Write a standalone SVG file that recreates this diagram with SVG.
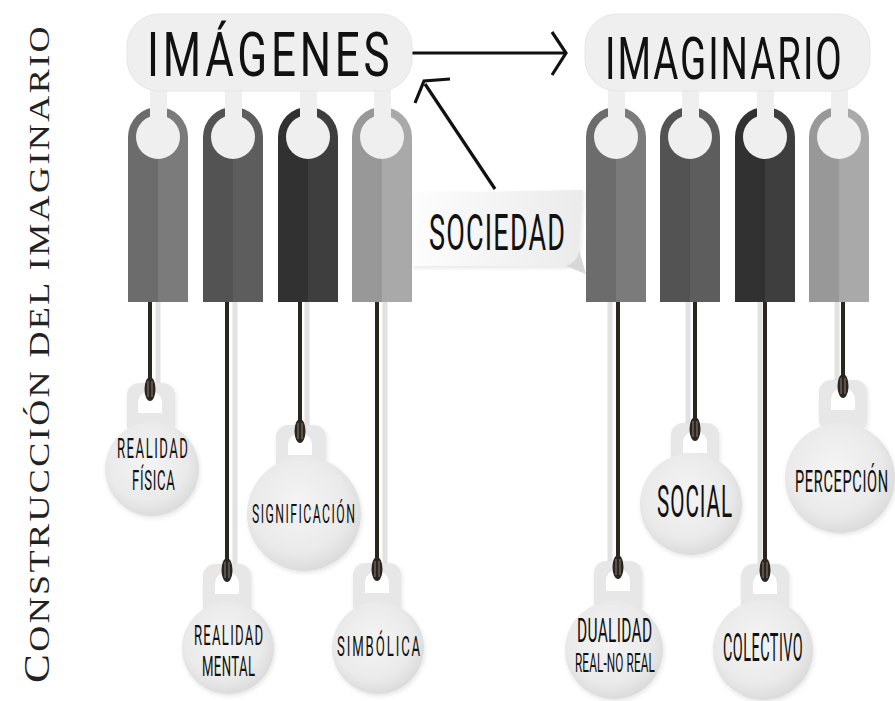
<svg xmlns="http://www.w3.org/2000/svg" width="895" height="701" viewBox="0 0 895 701">
<defs>
<style>
.lbl{font-family:Roboto,"Open Sans","DejaVu Sans Condensed",sans-serif;font-weight:400;fill:#111;}
.pill{fill:#efefef;stroke:#e6e6e6;stroke-width:1;}
.stem{fill:#efefef;}
.hole{fill:#efefef;}
.cord{stroke:#2b2520;stroke-width:4;fill:none;}
.cshadow{stroke:#e2e2e2;stroke-width:5;fill:none;}
.bail{fill:#e7e7e7;}
.thole{fill:#ffffff;}
.knot{fill:#2b2520;}
.kline{stroke:#8a7f77;stroke-width:1;}
.arrow{stroke:#111;stroke-width:3.2;fill:none;stroke-linecap:butt;stroke-linejoin:miter;}
</style>
<radialGradient id="tagGrad" cx="0.45" cy="0.42" r="0.6">
<stop offset="0" stop-color="#f4f4f4"/>
<stop offset="0.7" stop-color="#eaeaea"/>
<stop offset="1" stop-color="#dadada"/>
</radialGradient>
<linearGradient id="paper" x1="0" y1="0" x2="1" y2="0">
<stop offset="0" stop-color="#fdfdfd"/>
<stop offset="1" stop-color="#ebebeb"/>
</linearGradient>
<filter id="sh" x="-20%" y="-20%" width="140%" height="140%">
<feDropShadow dx="1" dy="2" stdDeviation="2" flood-color="#000" flood-opacity="0.10"/>
</filter>
</defs>
<rect width="895" height="701" fill="#ffffff"/>

<g id="title">
<text transform="translate(49,683) rotate(-90)" font-family="'Liberation Serif',serif" fill="#222" letter-spacing="2" textLength="659" lengthAdjust="spacingAndGlyphs"><tspan font-size="36">C</tspan><tspan font-size="30">ONSTRUCCIÓN DEL IMAGINARIO</tspan></text>
</g>

<g id="connectors">
<line class="arrow" x1="412" y1="53" x2="565" y2="53"/>
<polyline class="arrow" points="552,32 566,53 552,75"/>
<line class="arrow" x1="495" y1="189" x2="425" y2="84"/>
<polyline class="arrow" points="415,103 424,81 450,79"/>
<line class="cshadow" x1="158" y1="302" x2="158" y2="395"/>
<line class="cord" x1="150" y1="302" x2="150" y2="389"/>
<line class="cshadow" x1="235" y1="302" x2="235" y2="578"/>
<line class="cord" x1="227" y1="302" x2="227" y2="570"/>
<line class="cshadow" x1="307" y1="302" x2="307" y2="440"/>
<line class="cord" x1="300" y1="302" x2="300" y2="431"/>
<line class="cshadow" x1="385" y1="302" x2="385" y2="578"/>
<line class="cord" x1="377" y1="302" x2="377" y2="569"/>
<line class="cshadow" x1="610" y1="302" x2="610" y2="576"/>
<line class="cord" x1="618" y1="302" x2="618" y2="567"/>
<line class="cshadow" x1="688" y1="302" x2="688" y2="438"/>
<line class="cord" x1="695" y1="302" x2="695" y2="429"/>
<line class="cshadow" x1="760" y1="302" x2="760" y2="578"/>
<line class="cord" x1="765" y1="302" x2="765" y2="570"/>
<line class="cshadow" x1="837" y1="302" x2="837" y2="394"/>
<line class="cord" x1="843" y1="302" x2="843" y2="386"/>
</g>

<g id="node-imagenes">
<rect class="stem" x="150" y="80" width="17" height="60"/>
<rect class="stem" x="225" y="80" width="17" height="60"/>
<rect class="stem" x="300" y="80" width="17" height="60"/>
<rect class="stem" x="374" y="80" width="17" height="60"/>
<rect class="pill" x="127" y="14" width="285" height="77" rx="32"/>
<text class="lbl" transform="translate(147,76) scale(0.72,1)" font-size="61" textLength="337" lengthAdjust="spacing">IMÁGENES</text>
</g>

<g id="node-imaginario">
<rect class="stem" x="608" y="80" width="17" height="60"/>
<rect class="stem" x="682" y="80" width="17" height="60"/>
<rect class="stem" x="757" y="80" width="17" height="60"/>
<rect class="stem" x="831" y="80" width="17" height="60"/>
<rect class="pill" x="585" y="14" width="285" height="77" rx="32"/>
<text class="lbl" transform="translate(605,79) scale(0.64,1)" font-size="60" textLength="370" lengthAdjust="spacing">IMAGINARIO</text>
</g>

<g id="bars-imagenes">
<path d="M128,302V137A30,30 0 0 1 158,107V302Z" fill="#6c6c6c"/>
<path d="M158,107A30,30 0 0 1 188,137V302H158Z" fill="#7b7b7b"/>
<path d="M203,302V137A30,30 0 0 1 233,107V302Z" fill="#535353"/>
<path d="M233,107A30,30 0 0 1 263,137V302H233Z" fill="#5d5d5d"/>
<path d="M278,302V137A30,30 0 0 1 308,107V302Z" fill="#313131"/>
<path d="M308,107A30,30 0 0 1 338,137V302H308Z" fill="#3e3e3e"/>
<path d="M352,302V137A30,30 0 0 1 382,107V302Z" fill="#989898"/>
<path d="M382,107A30,30 0 0 1 412,137V302H382Z" fill="#a9a9a9"/>
<rect class="stem" x="150" y="100" width="17" height="30"/>
<rect class="stem" x="225" y="100" width="17" height="30"/>
<rect class="stem" x="300" y="100" width="17" height="30"/>
<rect class="stem" x="374" y="100" width="17" height="30"/>
<circle class="hole" cx="158" cy="137" r="22"/>
<circle class="hole" cx="233" cy="137" r="22"/>
<circle class="hole" cx="308" cy="137" r="22"/>
<circle class="hole" cx="382" cy="137" r="22"/>
</g>

<g id="bars-imaginario">
<path d="M586,302V137A30,30 0 0 1 616,107V302Z" fill="#6c6c6c"/>
<path d="M616,107A30,30 0 0 1 646,137V302H616Z" fill="#7b7b7b"/>
<path d="M660,302V137A30,30 0 0 1 690,107V302Z" fill="#535353"/>
<path d="M690,107A30,30 0 0 1 720,137V302H690Z" fill="#5d5d5d"/>
<path d="M735,302V137A30,30 0 0 1 765,107V302Z" fill="#313131"/>
<path d="M765,107A30,30 0 0 1 795,137V302H765Z" fill="#3e3e3e"/>
<path d="M809,302V137A30,30 0 0 1 839,107V302Z" fill="#989898"/>
<path d="M839,107A30,30 0 0 1 869,137V302H839Z" fill="#a9a9a9"/>
<rect class="stem" x="608" y="100" width="17" height="30"/>
<rect class="stem" x="682" y="100" width="17" height="30"/>
<rect class="stem" x="757" y="100" width="17" height="30"/>
<rect class="stem" x="831" y="100" width="17" height="30"/>
<circle class="hole" cx="616" cy="137" r="22"/>
<circle class="hole" cx="690" cy="137" r="22"/>
<circle class="hole" cx="765" cy="137" r="22"/>
<circle class="hole" cx="839" cy="137" r="22"/>
</g>

<g id="node-sociedad">
<path d="M412,193L583,190L579,252Q576,262 566,266L412,266Z" fill="url(#paper)" filter="url(#sh)"/>
<path d="M566,266Q578,262 579,250L586,274Q575,270 566,266Z" fill="#d8d8d8"/>
<text class="lbl" transform="translate(429,250) scale(0.54,1)" font-size="50" textLength="252" lengthAdjust="spacing">SOCIEDAD</text>
</g>

<g id="tag-realidad-fisica" filter="url(#sh)">
<rect class="bail" x="127" y="383" width="48" height="55" rx="12"/>
<circle cx="152" cy="469" r="47" fill="url(#tagGrad)"/>
<path class="thole" d="M138,413V403A12,12 0 0 1 162,403V413Z"/>
</g>
<g id="tag-significacion" filter="url(#sh)">
<rect class="bail" x="276" y="425" width="50" height="50" rx="12"/>
<circle cx="304" cy="514" r="57" fill="url(#tagGrad)"/>
<path class="thole" d="M288,455V445A12,12 0 0 1 312,445V455Z"/>
</g>
<g id="tag-realidad-mental" filter="url(#sh)">
<rect class="bail" x="203" y="564" width="48" height="54" rx="12"/>
<circle cx="228" cy="648" r="46" fill="url(#tagGrad)"/>
<path class="thole" d="M215,594V584A12,12 0 0 1 239,584V594Z"/>
</g>
<g id="tag-simbolica" filter="url(#sh)">
<rect class="bail" x="353" y="563" width="48" height="54" rx="12"/>
<circle cx="378" cy="648" r="46" fill="url(#tagGrad)"/>
<path class="thole" d="M365,593V583A12,12 0 0 1 389,583V593Z"/>
</g>
<g id="tag-dualidad" filter="url(#sh)">
<rect class="bail" x="594" y="561" width="48" height="56" rx="12"/>
<circle cx="614" cy="650" r="49" fill="url(#tagGrad)"/>
<path class="thole" d="M606,591V581A12,12 0 0 1 630,581V591Z"/>
</g>
<g id="tag-social" filter="url(#sh)">
<rect class="bail" x="671" y="423" width="48" height="50" rx="12"/>
<circle cx="691" cy="504" r="51" fill="url(#tagGrad)"/>
<path class="thole" d="M683,453V443A12,12 0 0 1 707,443V453Z"/>
</g>
<g id="tag-colectivo" filter="url(#sh)">
<rect class="bail" x="741" y="564" width="48" height="54" rx="12"/>
<circle cx="763" cy="650" r="50" fill="url(#tagGrad)"/>
<path class="thole" d="M753,594V584A12,12 0 0 1 777,584V594Z"/>
</g>
<g id="tag-percepcion" filter="url(#sh)">
<rect class="bail" x="819" y="380" width="48" height="52" rx="12"/>
<circle cx="840" cy="478" r="55" fill="url(#tagGrad)"/>
<path class="thole" d="M831,410V400A12,12 0 0 1 855,400V410Z"/>
</g>

<g id="knots">
<ellipse class="knot" cx="150" cy="389" rx="5.5" ry="12"/><line class="kline" x1="148" y1="381" x2="148" y2="397"/><line class="kline" x1="152" y1="381" x2="152" y2="397"/>
<ellipse class="knot" cx="300" cy="431" rx="5.5" ry="12"/><line class="kline" x1="298" y1="423" x2="298" y2="439"/><line class="kline" x1="302" y1="423" x2="302" y2="439"/>
<ellipse class="knot" cx="227" cy="570" rx="5.5" ry="12"/><line class="kline" x1="225" y1="562" x2="225" y2="578"/><line class="kline" x1="229" y1="562" x2="229" y2="578"/>
<ellipse class="knot" cx="377" cy="569" rx="5.5" ry="12"/><line class="kline" x1="375" y1="561" x2="375" y2="577"/><line class="kline" x1="379" y1="561" x2="379" y2="577"/>
<ellipse class="knot" cx="618" cy="567" rx="5.5" ry="12"/><line class="kline" x1="616" y1="559" x2="616" y2="575"/><line class="kline" x1="620" y1="559" x2="620" y2="575"/>
<ellipse class="knot" cx="695" cy="429" rx="5.5" ry="12"/><line class="kline" x1="693" y1="421" x2="693" y2="437"/><line class="kline" x1="697" y1="421" x2="697" y2="437"/>
<ellipse class="knot" cx="765" cy="570" rx="5.5" ry="12"/><line class="kline" x1="763" y1="562" x2="763" y2="578"/><line class="kline" x1="767" y1="562" x2="767" y2="578"/>
<ellipse class="knot" cx="843" cy="386" rx="5.5" ry="12"/><line class="kline" x1="841" y1="378" x2="841" y2="394"/><line class="kline" x1="845" y1="378" x2="845" y2="394"/>
</g>

<g id="tag-labels">
<text class="lbl" transform="translate(117,458) scale(0.47,1)" font-size="28" textLength="151" lengthAdjust="spacing">REALIDAD</text>
<text class="lbl" transform="translate(132,490) scale(0.47,1)" font-size="28" textLength="91" lengthAdjust="spacing">FÍSICA</text>
<text class="lbl" transform="translate(252,523) scale(0.47,1)" font-size="26" textLength="219" lengthAdjust="spacing">SIGNIFICACIÓN</text>
<text class="lbl" transform="translate(194,645) scale(0.47,1)" font-size="28" textLength="147" lengthAdjust="spacing">REALIDAD</text>
<text class="lbl" transform="translate(202,676) scale(0.47,1)" font-size="28" textLength="113" lengthAdjust="spacing">MENTAL</text>
<text class="lbl" transform="translate(337,656) scale(0.47,1)" font-size="28" textLength="177" lengthAdjust="spacing">SIMBÓLICA</text>
<text class="lbl" transform="translate(577,642) scale(0.47,1)" font-size="33" textLength="160" lengthAdjust="spacing">DUALIDAD</text>
<text class="lbl" transform="translate(575,672) scale(0.47,1)" font-size="25" textLength="170" lengthAdjust="spacing">REAL-NO REAL</text>
<text class="lbl" transform="translate(657,517) scale(0.47,1)" font-size="44" textLength="160" lengthAdjust="spacing">SOCIAL</text>
<text class="lbl" transform="translate(723,661) scale(0.38,1)" font-size="38" textLength="210" lengthAdjust="spacing">COLECTIVO</text>
<text class="lbl" transform="translate(795,492) scale(0.47,1)" font-size="31" textLength="198" lengthAdjust="spacing">PERCEPCIÓN</text>
</g>
</svg>
